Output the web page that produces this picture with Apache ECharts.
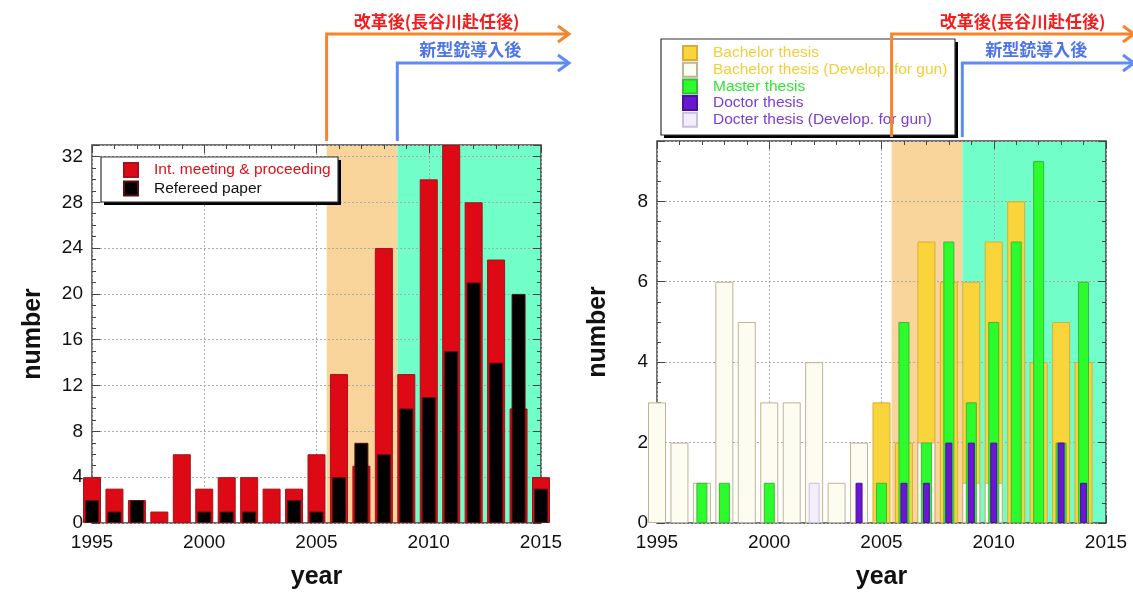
<!DOCTYPE html>
<html>
<head>
<meta charset="utf-8">
<title>papers and theses</title>
<script src="https://cdn.jsdelivr.net/npm/echarts@6/dist/echarts.min.js"></script>
<style>
  html, body { margin: 0; padding: 0; background: #fff; }
  #main { width: 1133px; height: 595px; }
</style>
</head>
<body>
<div id="main"></div>
<script>
// left chart: papers per year
const paperYears = [1995, 1996, 1997, 1998, 1999, 2000, 2001, 2002, 2003, 2004, 2005,
  2006, 2007, 2008, 2009, 2010, 2011, 2012, 2013, 2014, 2015]
const proceedings = [4, 3, 2, 1, 6, 3, 4, 4, 3, 3, 6, 13, 5, 24, 13, 30, 33, 28, 23, 10, 4]
const refereed = [2, 1, 2, 0, 0, 1, 1, 1, 0, 2, 1, 4, 7, 6, 10, 11, 15, 21, 14, 20, 3]

// right chart: theses per year
const thesisYears = [1995, 1996, 1997, 1998, 1999, 2000, 2001, 2002, 2003, 2004,
  2005, 2006, 2007, 2008, 2009, 2010, 2011, 2012, 2013, 2014]
const bachelor = [0, 0, 0, 0, 0, 0, 0, 0, 0, 0, 3, 2, 7, 6, 6, 7, 8, 4, 5, 4]
const bachelorGun = [3, 2, 1, 6, 5, 3, 3, 4, 1, 2, 0, 0, 2, 0, 1, 1, 0, 0, 0, 0]
const master = [0, 0, 1, 1, 0, 1, 0, 0, 0, 0, 1, 5, 2, 7, 3, 5, 7, 9, 2, 6]
const doctor = [0, 0, 0, 0, 0, 0, 0, 0, 0, 1, 0, 1, 1, 2, 2, 2, 0, 0, 2, 1]
const doctorGun = [0, 0, 0, 0, 0, 0, 0, 1, 0, 0, 0, 0, 0, 0, 0, 0, 0, 0, 0, 0]

// axes and periods
const yearRange = [1995, 2015]
const yearStep = 5
const paperMax = 33
const paperStep = 4
const thesisMax = 9.5
const thesisStep = 2
const reformStart = 2005.45
const newGunStart = 2008.6
const reformText = '改革後(長谷川赴任後)'
const newGunText = '新型銃導入後'

const latin = '"Liberation Sans", Arial, Helvetica, sans-serif'
const cjk = '"Noto Sans CJK JP", "Noto Sans CJK SC", sans-serif'

// years with no entry get no bar at all
function pairs(xs, ys) {
  return xs.map((x, i) => [x, ys[i] === 0 ? '-' : ys[i]])
}

const tickStyle = { lineStyle: { color: '#444' } }
const titleStyle = { fontSize: 25, fontWeight: 'bold', color: '#111', fontFamily: latin }
const labelStyle = { fontSize: 19, color: '#111', fontFamily: latin }

function mainX(gridIndex) {
  return {
    type: 'value', gridIndex, min: yearRange[0], max: yearRange[1], interval: yearStep,
    z: 2,
    name: 'year', nameLocation: 'middle', nameGap: 42, nameTextStyle: titleStyle,
    axisLine: { show: false },
    axisTick: { inside: true, length: 8, ...tickStyle },
    minorTick: { show: true, splitNumber: 5, length: 4, ...tickStyle },
    axisLabel: { ...labelStyle, margin: 10, formatter: v => String(v) },
    splitLine: { show: true, lineStyle: { color: '#aaa', type: [2, 2] } }
  }
}
function mirrorX(gridIndex) {
  return {
    type: 'value', gridIndex, position: 'top', min: yearRange[0], max: yearRange[1],
    interval: yearStep, z: 2,
    axisLine: { show: false },
    axisTick: { inside: true, length: 8, ...tickStyle },
    minorTick: { show: true, splitNumber: 5, length: 4, ...tickStyle },
    axisLabel: { show: false }, splitLine: { show: false }
  }
}
function hiddenX(gridIndex) {
  return { type: 'value', gridIndex, min: yearRange[0], max: yearRange[1], show: false }
}
function mainY(gridIndex, max, step) {
  return {
    type: 'value', gridIndex, min: 0, max, interval: step, z: 2,
    name: 'number', nameLocation: 'middle', nameGap: 46, nameTextStyle: titleStyle,
    axisLine: { show: false },
    axisTick: { inside: true, length: 8, ...tickStyle },
    minorTick: { show: true, splitNumber: 4, length: 4, ...tickStyle },
    axisLabel: { ...labelStyle, margin: 9, showMaxLabel: false },
    splitLine: { show: true, lineStyle: { color: '#aaa', type: [2, 2] } }
  }
}
function mirrorY(gridIndex, max, step) {
  return {
    type: 'value', gridIndex, position: 'right', min: 0, max, interval: step, z: 2,
    axisLine: { show: false },
    axisTick: { inside: true, length: 8, ...tickStyle },
    minorTick: { show: true, splitNumber: 4, length: 4, ...tickStyle },
    axisLabel: { show: false }, splitLine: { show: false }
  }
}

const bands = {
  silent: true, z: 1,
  data: [
    [{ xAxis: reformStart, itemStyle: { color: '#f9d49b' } }, { xAxis: newGunStart }],
    [{ xAxis: newGunStart, itemStyle: { color: '#72fec8' } }, { xAxis: yearRange[1] }]
  ]
}

// the framed box with its drop shadow is drawn as graphic, the legend sits on it
function legendItems(left, top, items, gap) {
  return {
    orient: 'vertical', left, top, selectedMode: false, icon: 'rect',
    itemWidth: 14, itemHeight: 14, itemGap: gap, padding: 0,
    textStyle: { fontSize: 15.5, fontFamily: latin, padding: [0, 0, 0, 11] },
    data: items.map(([name, color]) => ({ name, textStyle: { color } })),
    z: 6
  }
}
function legendFrame(x, y, width, height) {
  return [
    { type: 'rect', z: 5, silent: true, shape: { x: x + 3, y: y + 3, width, height }, style: { fill: '#000' } },
    { type: 'rect', z: 5, silent: true, shape: { x, y, width, height }, style: { fill: '#fff', stroke: '#333', lineWidth: 1.2 } }
  ]
}

const chart = echarts.init(document.getElementById('main'))

const option = {
  animation: false,
  backgroundColor: '#fff',
  grid: [
    { left: 92, right: 592, top: 145, bottom: 68, show: true, borderColor: '#444', borderWidth: 1.5, z: 2 },
    { left: 657, right: 27, top: 141, bottom: 67, show: true, borderColor: '#444', borderWidth: 1.5, z: 2 }
  ],
  xAxis: [
    mainX(0), hiddenX(0), mirrorX(0),
    mainX(1), hiddenX(1), hiddenX(1), mirrorX(1)
  ],
  yAxis: [
    mainY(0, paperMax, paperStep), mirrorY(0, paperMax, paperStep),
    mainY(1, thesisMax, thesisStep), mirrorY(1, thesisMax, thesisStep)
  ],
  legend: [
    legendItems(123, 162, [
      ['Int. meeting & proceeding', '#e0101a'],
      ['Refereed paper', '#111']
    ], 2.5),
    legendItems(682, 45, [
      ['Bachelor thesis', '#f5cd3a'],
      ['Bachelor thesis (Develop. for gun)', '#f5cd3a'],
      ['Master thesis', '#2fe82f'],
      ['Doctor thesis', '#7b3dd6'],
      ['Docter thesis (Develop. for gun)', '#7b3dd6']
    ], 0.7)
  ],
  series: [
    {
      name: 'Int. meeting & proceeding', type: 'bar', xAxisIndex: 0, yAxisIndex: 0,
      barWidth: 18, clip: false, z: 3,
      itemStyle: { color: '#dd0915', borderColor: '#a5121a', borderWidth: 1 },
      data: pairs(paperYears, proceedings),
      markArea: bands
    },
    {
      name: 'Refereed paper', type: 'bar', xAxisIndex: 1, yAxisIndex: 0,
      barWidth: 14, clip: false, z: 3,
      itemStyle: { color: '#000', borderColor: '#5a1010', borderWidth: 1 },
      data: pairs(paperYears, refereed)
    },
    {
      name: 'Bachelor thesis', type: 'bar', xAxisIndex: 3, yAxisIndex: 2,
      barWidth: 18, barGap: '-100%', clip: false, z: 3,
      itemStyle: { color: '#f9d43b', borderColor: '#d6ae3a', borderWidth: 1 },
      data: pairs(thesisYears, bachelor),
      markArea: bands
    },
    {
      name: 'Bachelor thesis (Develop. for gun)', type: 'bar', xAxisIndex: 3, yAxisIndex: 2,
      barWidth: 18, barGap: '-100%', clip: false, z: 3,
      itemStyle: { color: '#fdfcf1', borderColor: '#bdb494', borderWidth: 1 },
      data: pairs(thesisYears, bachelorGun)
    },
    {
      name: 'Master thesis', type: 'bar', xAxisIndex: 4, yAxisIndex: 2,
      barWidth: 11, barGap: '-100%', clip: false, z: 3,
      itemStyle: { color: '#2cfb2c', borderColor: '#3cb83c', borderWidth: 1 },
      data: pairs(thesisYears, master)
    },
    {
      name: 'Docter thesis (Develop. for gun)', type: 'bar', xAxisIndex: 4, yAxisIndex: 2,
      barWidth: 11, barGap: '-100%', clip: false, z: 3,
      itemStyle: { color: '#f3eefb', borderColor: '#c9c0dc', borderWidth: 1 },
      data: pairs(thesisYears, doctorGun)
    },
    {
      name: 'Doctor thesis', type: 'bar', xAxisIndex: 5, yAxisIndex: 2,
      barWidth: 7, clip: false, z: 3,
      itemStyle: { color: '#6a16d2', borderColor: '#4a1299', borderWidth: 1 },
      data: pairs(thesisYears, doctor)
    }
  ]
}

chart.setOption(option)

// period arrows above each panel, placed through the year axes
function periodArrows(xAxisIndex, yAxisIndex, yMax, redOffset, blueOffset) {
  const xReform = chart.convertToPixel({ xAxisIndex }, reformStart)
  const xGun = chart.convertToPixel({ xAxisIndex }, newGunStart)
  const xTip = chart.convertToPixel({ xAxisIndex }, yearRange[1]) + 28
  const yTop = chart.convertToPixel({ yAxisIndex }, yMax) - 4
  const orange = '#f7842b'
  const blue = '#5d8cf9'
  const lines = [
    [xReform, 34, orange],
    [xGun, 63, blue]
  ]
  const out = []
  lines.forEach(([x, y, color]) => {
    out.push({
      type: 'polyline', z: 20, silent: true,
      shape: { points: [[x, yTop], [x, y], [xTip - 2, y]] },
      style: { stroke: color, lineWidth: 3, fill: null, lineJoin: 'miter' }
    })
    out.push({
      type: 'polyline', z: 20, silent: true,
      shape: { points: [[xTip - 11, y - 8], [xTip, y], [xTip - 11, y + 8]] },
      style: { stroke: color, lineWidth: 3, fill: null, lineJoin: 'miter' }
    })
  })
  out.push({
    type: 'text', z: 20, silent: true, x: xReform + redOffset, y: 22,
    style: {
      text: reformText, fill: '#f51c1c', fontSize: 17, fontWeight: 'bold',
      fontFamily: cjk, align: 'center', verticalAlign: 'middle'
    }
  })
  out.push({
    type: 'text', z: 20, silent: true, x: xGun + blueOffset, y: 50,
    style: {
      text: newGunText, fill: '#4d74ea', fontSize: 17, fontWeight: 'bold',
      fontFamily: cjk, align: 'center', verticalAlign: 'middle'
    }
  })
  return out
}

chart.setOption({
  graphic: [
    ...legendFrame(101, 157, 237, 45),
    ...legendFrame(661, 39, 294, 96),
    ...periodArrows(0, 0, paperMax, 110, 73),
    ...periodArrows(3, 2, thesisMax, 131, 74)
  ]
})
</script>
</body>
</html>
